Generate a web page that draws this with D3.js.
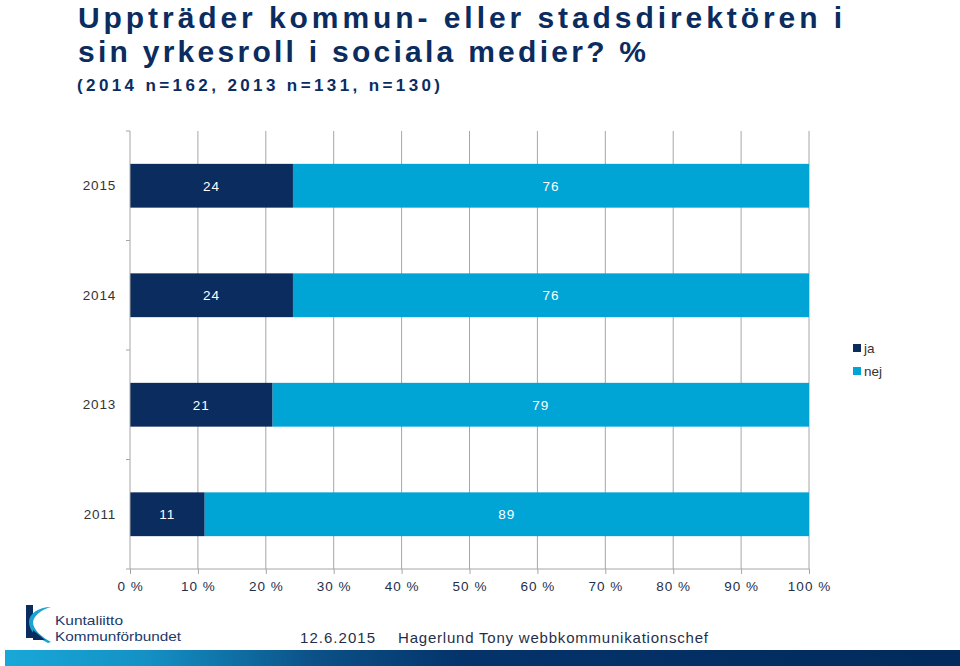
<!DOCTYPE html>
<html><head><meta charset="utf-8">
<script src="https://cdn.jsdelivr.net/npm/d3@7"></script>
<style>body{margin:0;background:#fff}svg{display:block}text{font-family:"Liberation Sans",Arial,sans-serif}</style>
</head><body>
<svg id="c" width="960" height="666"></svg>
<script>
const categories = ["2015", "2014", "2013", "2011"];
const jaValues = [24, 24, 21, 11];
const nejValues = [76, 76, 79, 89];
const seriesNames = ["ja", "nej"];
const seriesColors = ["#0b2c5f", "#00a5d5"];
const xTicks = [0, 10, 20, 30, 40, 50, 60, 70, 80, 90, 100];
const titleLines = ["Uppträder kommun- eller stadsdirektören i", "sin yrkesroll i sociala medier? %"];
const subtitle = "(2014 n=162, 2013 n=131, n=130)";

const svg = d3.select("#c");
const defs = svg.append("defs");
const grad = defs.append("linearGradient").attr("id", "fg").attr("x1", "0").attr("x2", "1");
[[0, "#18a8d8"], [0.15, "#1490c4"], [0.32, "#0b5288"], [0.48, "#04336a"], [1, "#022a5c"]].forEach(s =>
  grad.append("stop").attr("offset", s[0]).attr("stop-color", s[1]));

// Title
const title = svg.append("g").attr("fill", "#0b2c5f").attr("font-weight", "bold");
title.append("text").attr("x", 78).attr("y", 28).attr("font-size", 30)
  .attr("textLength", 764).attr("lengthAdjust", "spacing").text(titleLines[0]);
title.append("text").attr("x", 78).attr("y", 62).attr("font-size", 30)
  .attr("textLength", 568).attr("lengthAdjust", "spacing").text(titleLines[1]);
title.append("text").attr("x", 77).attr("y", 91).attr("font-size", 17)
  .attr("textLength", 363).attr("lengthAdjust", "spacing").text(subtitle);

// Scales
const x = d3.scaleLinear().domain([0, 100]).range([130, 809]);
const y = d3.scaleBand().domain(categories).range([131, 569]).paddingInner(0.6).paddingOuter(0.3);

// Gridlines
const grid = svg.append("g");
grid.selectAll("line").data(xTicks.slice(1)).join("line")
  .attr("x1", d => x(d)).attr("x2", d => x(d))
  .attr("y1", 131).attr("y2", 569)
  .attr("stroke", "#a6a6a6").attr("stroke-width", 1);

// Bars
const stackData = categories.map((c, i) => ({cat: c, ja: jaValues[i], nej: nejValues[i]}));
const stacked = d3.stack().keys(seriesNames)(stackData);
const barG = svg.append("g");
stacked.forEach((layer, li) => {
  barG.append("g").attr("fill", seriesColors[li])
    .selectAll("rect").data(layer).join("rect")
    .attr("x", d => x(d[0])).attr("width", d => x(d[1]) - x(d[0]))
    .attr("y", d => y(d.data.cat)).attr("height", y.bandwidth());
  barG.append("g").selectAll("text").data(layer).join("text")
    .attr("x", d => (x(d[0]) + x(d[1])) / 2)
    .attr("y", d => y(d.data.cat) + y.bandwidth() / 2 + 5)
    .attr("text-anchor", "middle").attr("font-size", 13.5).attr("fill", "#fff")
    .attr("letter-spacing", 1)
    .text(d => d[1] - d[0]);
});

// X axis
const xAxis = svg.append("g").attr("transform", "translate(0,569)")
  .call(d3.axisBottom(x).tickValues(xTicks).tickSize(5).tickFormat(d => d + " %"));
xAxis.select(".domain").attr("stroke", "#a6a6a6").attr("d", "M130,0H809");
xAxis.selectAll(".tick line").attr("stroke", "#a6a6a6");
xAxis.selectAll(".tick text").attr("font-size", 13.5).attr("fill", "#1f2f4a")
  .attr("letter-spacing", 1).attr("dy", "1.05em").attr("font-family", "Liberation Sans, Arial, sans-serif");

// Y axis
const yAxis = svg.append("g").attr("transform", "translate(130,0)")
  .call(d3.axisLeft(y).tickSize(0).tickPadding(14));
yAxis.select(".domain").attr("stroke", "#a6a6a6").attr("d", "M0,131V569");
yAxis.selectAll(".tick text").attr("font-size", 13.5).attr("fill", "#333")
  .attr("letter-spacing", 0.8).attr("font-family", "Liberation Sans, Arial, sans-serif");
const bounds = d3.range(categories.length + 1).map(i => y.range()[0] + i * y.step());
yAxis.selectAll(".bnd").data(bounds).join("line").attr("class", "bnd")
  .attr("x1", -4).attr("x2", 0).attr("y1", d => d).attr("y2", d => d)
  .attr("stroke", "#a6a6a6");

// Legend
const leg = svg.append("g").attr("transform", "translate(853,343)");
seriesNames.forEach((s, i) => {
  leg.append("rect").attr("x", 0).attr("y", i * 23 + 1).attr("width", 8).attr("height", 8).attr("fill", seriesColors[i]);
  leg.append("text").attr("x", 11).attr("y", i * 23 + 10).attr("font-size", 13.5).attr("fill", "#333").text(s);
});

// Footer logo
const logo = svg.append("g");
logo.append("path").attr("d", "M26,605 L33,605 L33,638 L26,638 Z").attr("fill", "#0b2c5f");
logo.append("path").attr("d", "M51,607 C40,610 34,616 33,622 C33,630 42,637 51,642 L48,643 C38,638 29,632 29,622 C29,614 38,607 51,607 Z").attr("fill", "#1aa3d3");
logo.append("path").attr("d", "M33,630 L45,640 L33,640 Z").attr("fill", "#0b2c5f");
logo.append("text").attr("x", 55).attr("y", 625).attr("font-size", 13).attr("fill", "#1b3a6b")
  .attr("font-family", "Open Sans, sans-serif").attr("textLength", 68).attr("lengthAdjust", "spacingAndGlyphs").text("Kuntaliitto");
logo.append("text").attr("x", 55).attr("y", 641).attr("font-size", 13).attr("fill", "#1b3a6b")
  .attr("font-family", "Open Sans, sans-serif").attr("textLength", 126).attr("lengthAdjust", "spacingAndGlyphs").text("Kommunförbundet");

svg.append("text").attr("x", 300).attr("y", 643).attr("font-size", 15).attr("fill", "#1f2f4a")
  .attr("textLength", 75).attr("lengthAdjust", "spacing").text("12.6.2015");
svg.append("text").attr("x", 398).attr("y", 643).attr("font-size", 15).attr("fill", "#1f2f4a")
  .attr("textLength", 310).attr("lengthAdjust", "spacing").text("Hagerlund Tony webbkommunikationschef");

svg.append("rect").attr("x", 5).attr("y", 650).attr("width", 955).attr("height", 16).attr("fill", "url(#fg)");
</script>
</body></html>
